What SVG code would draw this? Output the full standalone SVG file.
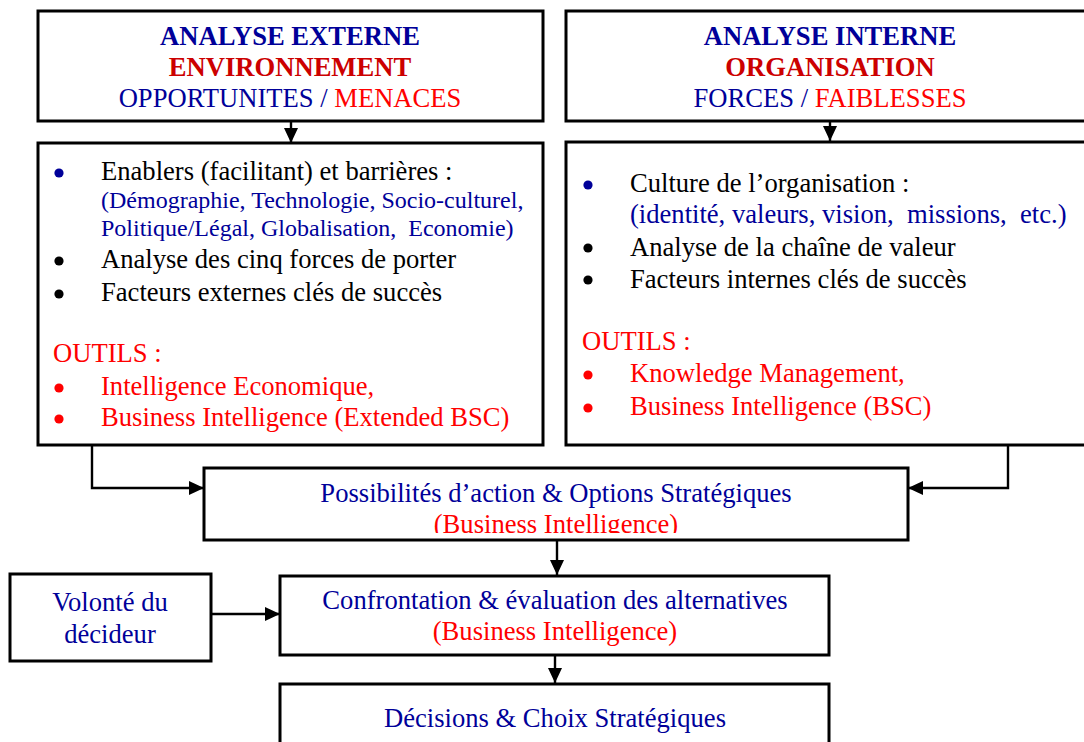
<svg xmlns="http://www.w3.org/2000/svg" width="1084" height="742" viewBox="0 0 1084 742">
<style>
text{font-family:"Liberation Serif","Times New Roman",serif;font-size:26.6px;white-space:pre}
.b{fill:#000099}.r{fill:#FF0000}.dr{fill:#CC0000}.k{fill:#000}
.bold{font-weight:bold}
.sm{font-size:24px}
.c{text-anchor:middle}
.box{fill:#fff;stroke:#000;stroke-width:3}
.con{fill:none;stroke:#000;stroke-width:2.4}
</style>
<defs>
<marker id="ah" markerWidth="15" markerHeight="14" refX="15" refY="7" orient="auto" markerUnits="userSpaceOnUse">
<path d="M0,0 L15,7 L0,14 Z" fill="#000"/>
</marker>
<clipPath id="clip5"><rect x="204" y="468" width="704" height="65"/></clipPath>
</defs>

<g id="connectors">
<line class="con" x1="291" y1="121" x2="291" y2="143" marker-end="url(#ah)"/>
<line class="con" x1="830" y1="121" x2="830" y2="141" marker-end="url(#ah)"/>
<polyline class="con" points="92,445 92,488 204,488" marker-end="url(#ah)"/>
<polyline class="con" points="1008,445 1008,488 908,488" marker-end="url(#ah)"/>
<line class="con" x1="557" y1="540" x2="557" y2="575" marker-end="url(#ah)"/>
<line class="con" x1="211" y1="614" x2="280" y2="614" marker-end="url(#ah)"/>
<line class="con" x1="555" y1="655" x2="555" y2="683" marker-end="url(#ah)"/>
</g>

<g id="externe">
<rect class="box" x="38" y="11" width="505" height="110"/>
<text class="b bold c" x="290" y="45">ANALYSE EXTERNE</text>
<text class="dr bold c" x="290" y="76">ENVIRONNEMENT</text>
<text class="c" x="290" y="107"><tspan class="b">OPPORTUNITES / </tspan><tspan class="r">MENACES</tspan></text>
</g>

<g id="interne">
<rect class="box" x="566" y="11" width="540" height="110"/>
<text class="b bold c" x="830" y="45">ANALYSE INTERNE</text>
<text class="dr bold c" x="830" y="76">ORGANISATION</text>
<text class="c" x="830" y="107"><tspan class="b">FORCES / </tspan><tspan class="r">FAIBLESSES</tspan></text>
</g>

<g id="externe-detail">
<rect class="box" x="38" y="143" width="505" height="302"/>
<circle cx="59" cy="173" r="4.6" fill="#000099"/>
<text class="k" x="101" y="180">Enablers (facilitant) et barrières :</text>
<text class="b sm" x="101" y="208">(Démographie, Technologie, Socio-culturel,</text>
<text class="b sm" x="101" y="236">Politique/Légal, Globalisation,  Economie)</text>
<circle cx="59" cy="261" r="4.6" fill="#000"/>
<text class="k" x="101" y="268">Analyse des cinq forces de porter</text>
<circle cx="59" cy="294" r="4.6" fill="#000"/>
<text class="k" x="101" y="301">Facteurs externes clés de succès</text>
<text class="r" x="53" y="362">OUTILS :</text>
<circle cx="59" cy="388" r="4.6" fill="#FF0000"/>
<text class="r" x="101" y="395">Intelligence Economique,</text>
<circle cx="59" cy="419" r="4.6" fill="#FF0000"/>
<text class="r" x="101" y="426">Business Intelligence (Extended BSC)</text>
</g>

<g id="interne-detail">
<rect class="box" x="566" y="142" width="540" height="303"/>
<circle cx="588" cy="185" r="4.6" fill="#000099"/>
<text class="k" x="630" y="192">Culture de l’organisation :</text>
<text class="b" x="630" y="223">(identité, valeurs, vision,  missions,  etc.)</text>
<circle cx="588" cy="248" r="4.6" fill="#000"/>
<text class="k" x="630" y="256">Analyse de la chaîne de valeur</text>
<circle cx="588" cy="280" r="4.6" fill="#000"/>
<text class="k" x="630" y="288">Facteurs internes clés de succès</text>
<text class="r" x="582" y="350">OUTILS :</text>
<circle cx="588" cy="375" r="4.6" fill="#FF0000"/>
<text class="r" x="630" y="382">Knowledge Management,</text>
<circle cx="588" cy="408" r="4.6" fill="#FF0000"/>
<text class="r" x="630" y="415">Business Intelligence (BSC)</text>
</g>

<g id="possibilites">
<rect class="box" x="204" y="468" width="704" height="72"/>
<g clip-path="url(#clip5)">
<text class="b c" x="556" y="502">Possibilités d’action &amp; Options Stratégiques</text>
<text class="r c" x="556" y="533">(Business Intelligence)</text>
</g>
</g>

<g id="volonte">
<rect class="box" x="10" y="574" width="201" height="87"/>
<text class="b c" x="110" y="611">Volonté du</text>
<text class="b c" x="110" y="643">décideur</text>
</g>

<g id="confrontation">
<rect class="box" x="280" y="576" width="549" height="79"/>
<text class="b c" x="555" y="609">Confrontation &amp; évaluation des alternatives</text>
<text class="r c" x="555" y="640">(Business Intelligence)</text>
</g>

<g id="decisions">
<rect class="box" x="280" y="684" width="549" height="80"/>
<text class="b c" x="555" y="727">Décisions &amp; Choix Stratégiques</text>
</g>
</svg>
